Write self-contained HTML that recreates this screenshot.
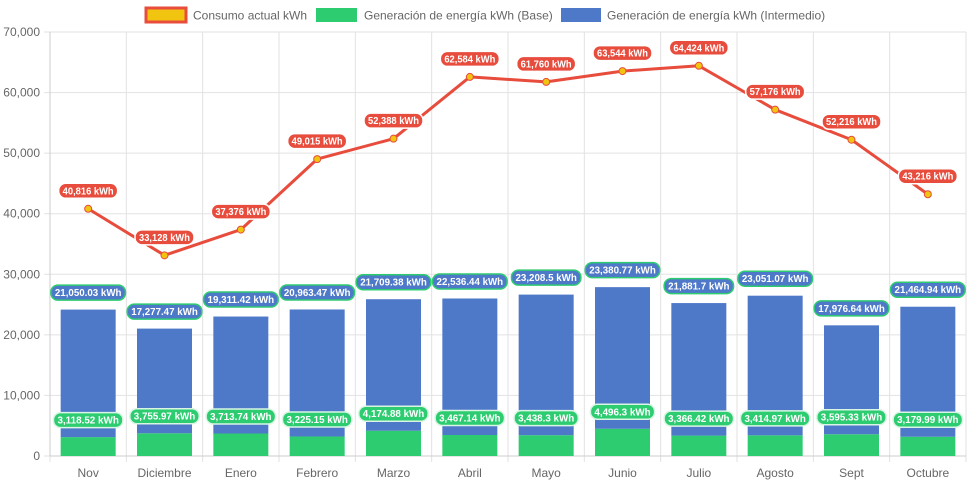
<!DOCTYPE html>
<html><head><meta charset="utf-8"><style>
html,body{margin:0;padding:0;background:#fff;}
svg{display:block;font-family:"Liberation Sans",sans-serif;}
</style></head><body>
<svg id="chart" width="971" height="485" viewBox="0 0 971 485">
<g id="legend">
 <g>
  <rect x="146" y="8" width="40" height="14" fill="#f1c40f" stroke="#e74c3c" stroke-width="3"/>
  <text x="193" y="19.5" font-size="12" fill="#666">Consumo actual kWh</text></g>
 <g>
  <rect x="316" y="8" width="41" height="14" fill="#2ecc71"/>
  <text x="364" y="19.5" font-size="12" fill="#666">Generación de energía kWh (Base)</text></g>
 <g>
  <rect x="561" y="8" width="40" height="14" fill="#4e78c8"/>
  <text x="607" y="19.5" font-size="12" fill="#666">Generación de energía kWh (Intermedio)</text></g>
</g>
<g id="grid"></g><g id="bars"></g><g id="line"></g><g id="labels"></g>
</svg>
<script>
const categories=["Nov","Diciembre","Enero","Febrero","Marzo","Abril","Mayo","Junio","Julio","Agosto","Sept","Octubre"];
const baseValues=[3118.52,3755.97,3713.74,3225.15,4174.88,3467.14,3438.3,4496.3,3366.42,3414.97,3595.33,3179.99];
const interValues=[21050.03,17277.47,19311.42,20963.47,21709.38,22536.44,23208.5,23380.77,21881.7,23051.07,17976.64,21464.94];
const consumo=[40816,33128,37376,49015,52388,62584,61760,63544,64424,57176,52216,43216];
const yTicks=[0,10000,20000,30000,40000,50000,60000,70000];
const NS="http://www.w3.org/2000/svg";
const L=50,R=966,T=32,B=456,yMax=70000;
const bw=(R-L)/categories.length;
function xC(i){return L+bw*(i+0.5);}
function y(v){return B-(v/yMax)*(B-T);}
function mk(tag,attrs,parent,text){const e=document.createElementNS(NS,tag);for(const k in attrs)e.setAttribute(k,attrs[k]);if(text!==undefined)e.textContent=text;parent.appendChild(e);return e;}
function fmt(v){return v.toLocaleString("en-US",{maximumFractionDigits:2});}
const grid=document.getElementById("grid");
yTicks.forEach(t=>{
 const l=mk("line",{x1:L-6,x2:R,y1:y(t),y2:y(t),stroke:"#e2e2e2","stroke-width":1},grid);
 
 
 const tx=mk("text",{x:L-10,y:y(t)+4,"text-anchor":"end","font-size":12,fill:"#666"},grid,fmt(t));
 
 
});
for(let i=0;i<=categories.length;i++){
 const x=L+bw*i;
 const l=mk("line",{x1:x,x2:x,y1:T,y2:B+6,stroke:"#e2e2e2","stroke-width":1},grid);
 
 
}
mk("line",{x1:L,x2:L,y1:T,y2:B,stroke:"#ccc"},grid);
mk("line",{x1:L,x2:R,y1:B,y2:B,stroke:"#ccc"},grid);
categories.forEach((c,i)=>{
 const tx=mk("text",{x:xC(i),y:477,"text-anchor":"middle","font-size":12,fill:"#666"},grid,c);
 
 
});
const bars=document.getElementById("bars");
const barW=55;
categories.forEach((c,i)=>{
 const b=mk("rect",{x:xC(i)-barW/2,y:y(baseValues[i]),width:barW,height:B-y(baseValues[i]),fill:"#2ecc71"},bars);
 
 
 const top=baseValues[i]+interValues[i];
 const b2=mk("rect",{x:xC(i)-barW/2,y:y(top),width:barW,height:y(baseValues[i])-y(top),fill:"#4e78c8"},bars);
 
 
});
const lineG=document.getElementById("line");
const pts=consumo.map((v,i)=>xC(i)+","+y(v)).join(" ");
const pl=mk("polyline",{points:pts,fill:"none",stroke:"#e74c3c","stroke-width":3,"stroke-linejoin":"round"},lineG);


consumo.forEach((v,i)=>{
 const p=mk("circle",{cx:xC(i),cy:y(v),r:3.5,fill:"#f1c40f",stroke:"#e74c3c","stroke-width":1},lineG);
 
 
});
const labels=document.getElementById("labels");
function pill(cx,cy,text,bg,border,name){
 const g=mk("g",{},labels);
 
 
 const w=text.length*5.2+7;
 mk("rect",{x:cx-w/2,y:cy-7.5,width:w,height:15,rx:7,ry:7,fill:bg,stroke:border,"stroke-width":1.5},g);
 mk("text",{x:cx,y:cy+3.5,"text-anchor":"middle","font-size":10,"font-weight":"bold",fill:"#fff",textLength:w-8,lengthAdjust:"spacingAndGlyphs"},g,text);
}
categories.forEach((c,i)=>{
 pill(xC(i),y(baseValues[i])-17,fmt(baseValues[i])+" kWh","#2ecc71","#d9f5e4","label-base");
 pill(xC(i),y(baseValues[i]+interValues[i])-17,fmt(interValues[i])+" kWh","#4e78c8","#2ecc71","label-intermedio");
 pill(xC(i),y(consumo[i])-18,fmt(consumo[i])+" kWh","#e74c3c","#fff","label-consumo");
});
</script>
</body></html>
